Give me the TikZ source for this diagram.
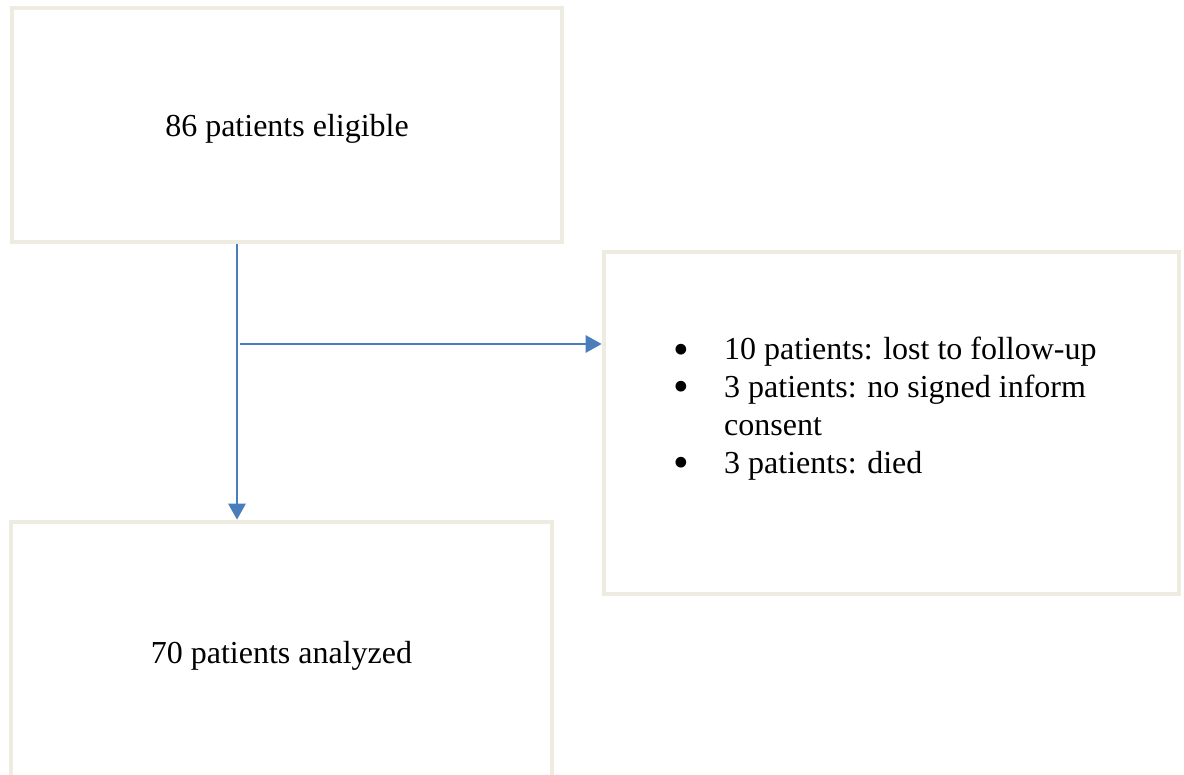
\documentclass[tikz,border=0pt]{standalone}
\usepackage{fontspec}
\setmainfont{Liberation Serif}
\usepackage{graphicx}
\usetikzlibrary{arrows.meta}
\definecolor{boxline}{HTML}{EEECE1}
\definecolor{arrowblue}{HTML}{4A7EBB}
\tikzset{
  flowbox/.style={draw=boxline, line width=4.6pt, rectangle, inner sep=0pt,
    text depth=0pt, font=\fontsize{32pt}{37.7pt}\selectfont, text=black},
  flowarrow/.style={draw=arrowblue, line width=2.8pt,
    -{Triangle[length=16pt,width=17pt]}}
}
\newcommand{\mybullet}{\makebox[58pt][l]{\makebox[31pt]{\smash{\raisebox{-4.2pt}{\scalebox{1.4}{\textbullet}}}}}}
\begin{document}
\begin{tikzpicture}[x=1pt,y=-1pt]
\clip (0,0) rectangle (1184,775);
\fill[white] (0,0) rectangle (1184,775);
\node[flowbox, minimum width=550pt, minimum height=234pt] (elig) at (287,125) {86 patients eligible};
\node[flowbox, minimum width=541pt, minimum height=260pt] (anal) at (281.5,652) {70 patients analyzed};
\node[flowbox, minimum width=575pt, minimum height=342pt] (excl) at (891.5,423) {};
\node[anchor=base west, inner sep=0pt, font=\fontsize{32pt}{37.7pt}\selectfont] (list) at (666,360)
  {\begin{tabular}[t]{@{}l@{}l@{}}
   \mybullet & 10 patients: lost to follow-up\\
   \mybullet & 3 patients: no signed inform\\
   & consent\\
   \mybullet & 3 patients: died
   \end{tabular}};
\coordinate (vx) at (237,0);
\coordinate (split) at (240,344);
\draw[flowarrow] (elig.south -| vx) -- (anal.north -| vx);
\draw[flowarrow] (split) -- (split -| excl.west);
\end{tikzpicture}
\end{document}
